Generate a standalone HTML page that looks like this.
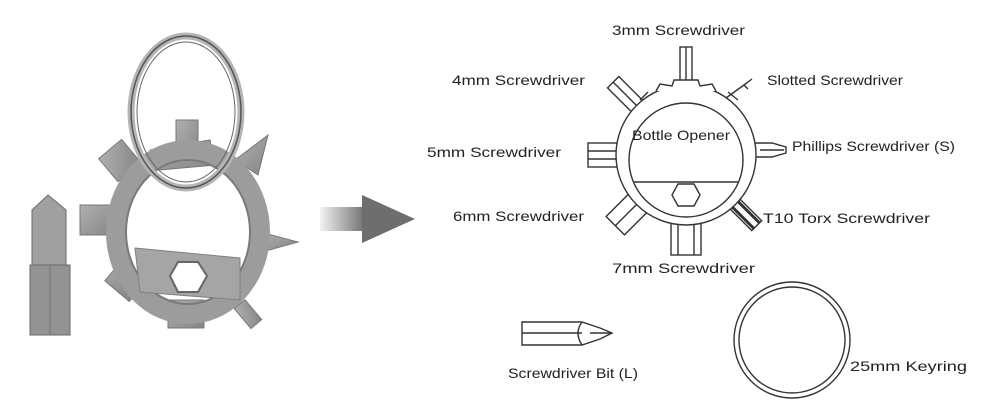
<!DOCTYPE html>
<html><head><meta charset="utf-8"><style>
html,body{margin:0;padding:0;background:#fff;}
svg{display:block}
text{font-family:"Liberation Sans",sans-serif;fill:#222;font-size:14px}
</style></head><body>
<svg width="987" height="411" viewBox="0 0 987 411" xmlns="http://www.w3.org/2000/svg">
<defs>
<linearGradient id="ag" x1="0" x2="1" y1="0" y2="0"><stop offset="0" stop-color="#f2f2f2"/><stop offset="1" stop-color="#6e6e6e"/></linearGradient>
<linearGradient id="mg" x1="0" x2="1" y1="0" y2="1"><stop offset="0" stop-color="#b0b0b0"/><stop offset="1" stop-color="#858585"/></linearGradient>
</defs>
<rect width="987" height="411" fill="#fff"/>

<g>
 <g fill="url(#mg)" stroke="#777" stroke-width="1">
  <rect x="176" y="120" width="22" height="40"/>
  <rect x="80" y="205" width="35" height="30"/>
  <rect x="168" y="300" width="36" height="28"/>
  <g transform="rotate(-40 130 165)"><rect x="110" y="140" width="30" height="30"/></g>
  <g transform="rotate(40 130 285)"><rect x="108" y="270" width="32" height="28"/></g>
  <polygon points="260,232 298,242 262,252"/>
  <g transform="rotate(-40 250 315)"><rect x="242" y="300" width="14" height="26"/></g>
  <polygon points="235,160 268,135 258,175"/>
  <polygon points="150,150 210,140 215,165 160,170"/>
 </g>
 <ellipse cx="188" cy="232" rx="72" ry="82" fill="none" stroke="#9c9c9c" stroke-width="20"/>
 <ellipse cx="188" cy="232" rx="62" ry="72" fill="none" stroke="#7a7a7a" stroke-width="2"/>
 <polygon points="135,248 240,258 240,300 140,292" fill="#a5a5a5" stroke="#808080"/>
 <polygon points="178,262 198,262 207,276 198,292 178,292 170,276" fill="#fff" stroke="#666" stroke-width="2"/>
 <ellipse cx="186" cy="112" rx="55" ry="76" fill="none" stroke="#b5b5b5" stroke-width="7"/>
 <ellipse cx="186" cy="112" rx="55" ry="76" fill="none" stroke="#555" stroke-width="1.5"/>
 <ellipse cx="186" cy="112" rx="49" ry="70" fill="none" stroke="#666" stroke-width="1"/>
 <polygon points="32,210 48,195 66,210 66,270 32,270" fill="#a0a0a0" stroke="#6a6a6a"/>
 <rect x="30" y="265" width="40" height="70" fill="#939393" stroke="#6a6a6a"/>
 <line x1="50" y1="265" x2="50" y2="335" stroke="#777"/>
</g>

<rect x="320" y="207" width="46" height="24" fill="url(#ag)"/>
<polygon points="362,195 415,219 362,243" fill="#6e6e6e"/>

<g fill="#fff" stroke="#333" stroke-width="1.4">
 <g transform="translate(686 155)">
  <rect x="-6" y="-108" width="12" height="40"/><line x1="0" y1="-108" x2="0" y2="-70"/>
  <g transform="rotate(-45)"><rect x="-8" y="-103" width="16" height="36"/><line x1="0" y1="-103" x2="0" y2="-68"/></g>
  <g transform="rotate(-90)"><rect x="-12" y="-98" width="24" height="30"/><line x1="-4" y1="-98" x2="-4" y2="-68"/><line x1="4" y1="-98" x2="4" y2="-68"/></g>
  <g transform="rotate(-135)"><rect x="-13" y="-100" width="26" height="32"/><line x1="0" y1="-100" x2="0" y2="-68"/></g>
  <g transform="rotate(180)"><rect x="-15" y="-100" width="30" height="32"/><line x1="-8" y1="-100" x2="-8" y2="-68"/><line x1="8" y1="-100" x2="8" y2="-68"/></g>
  <g transform="rotate(135)"><rect x="-7" y="-100" width="14" height="32" fill="#fff"/><line x1="-4" y1="-100" x2="-4" y2="-68" stroke-width="3"/><line x1="4" y1="-100" x2="4" y2="-68" stroke-width="3"/></g>
  <path d="M68,-12 L86,-12 L100,-8 L100,-2 L86,2 L68,2 Z"/><line x1="74" y1="-5" x2="98" y2="-5"/>
  <path d="M40,-57 L58,-70 L66,-76 M58,-70 L62,-66" fill="none"/>
 </g>
 <circle cx="686" cy="155" r="70"/>
 <path d="M656,91 L660,84 L672,86 L674,80 L698,80 L700,86 L712,84 L716,91" fill="#fff"/>
 <path d="M640,100 L648,92 M728,92 L738,100" fill="none"/>
 <circle cx="686" cy="160" r="57"/>
 <line x1="634" y1="182" x2="738" y2="182"/>
 <polygon points="678,184 694,184 700,195 694,206 678,206 672,195"/>
 <circle cx="792" cy="340" r="58"/>
 <circle cx="792" cy="340" r="53"/>
 <path d="M522,322 L582,322 L600,328 L612,333 L600,339 L582,345 L522,345 Z"/>
 <line x1="522" y1="333" x2="582" y2="333"/>
 <path d="M582,322 Q574,333 582,345" fill="none"/>
 <line x1="590" y1="333" x2="610" y2="333"/>
</g>

<text x="612" y="35" textLength="133" lengthAdjust="spacingAndGlyphs">3mm Screwdriver</text>
<text x="452" y="85" textLength="133" lengthAdjust="spacingAndGlyphs">4mm Screwdriver</text>
<text x="767" y="85" textLength="136" lengthAdjust="spacingAndGlyphs">Slotted Screwdriver</text>
<text x="427" y="157" textLength="134" lengthAdjust="spacingAndGlyphs">5mm Screwdriver</text>
<text x="632" y="140" textLength="98" lengthAdjust="spacingAndGlyphs">Bottle Opener</text>
<text x="792" y="151" textLength="163" lengthAdjust="spacingAndGlyphs">Phillips Screwdriver (S)</text>
<text x="453" y="221" textLength="131" lengthAdjust="spacingAndGlyphs">6mm Screwdriver</text>
<text x="763" y="223" textLength="167" lengthAdjust="spacingAndGlyphs">T10  Torx Screwdriver</text>
<text x="612" y="273" textLength="143" lengthAdjust="spacingAndGlyphs">7mm  Screwdriver</text>
<text x="508" y="378" textLength="130" lengthAdjust="spacingAndGlyphs">Screwdriver Bit (L)</text>
<text x="850" y="371" textLength="117" lengthAdjust="spacingAndGlyphs">25mm Keyring</text>
</svg>
</body></html>
